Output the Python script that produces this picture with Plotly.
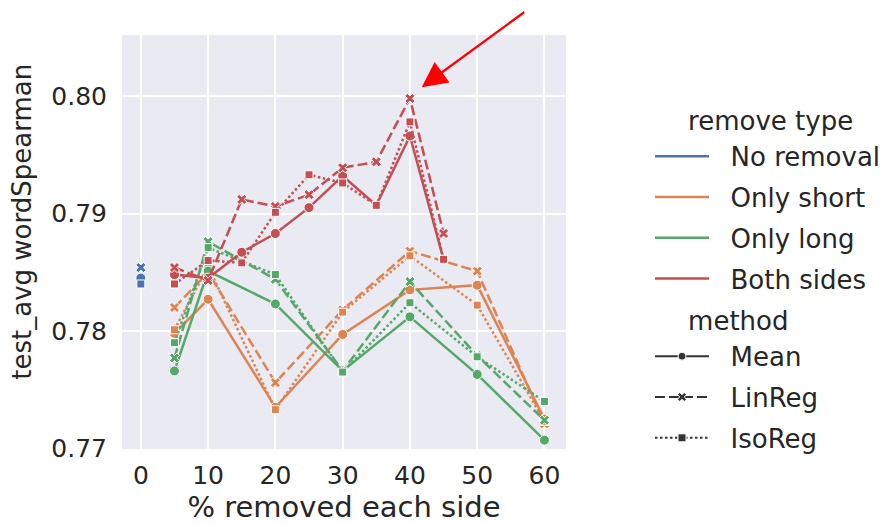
import plotly.graph_objects as go

# ---------------- data ----------------
X_NONE = [0]
X_SL = [5, 10, 20, 30, 40, 50, 60]
X_BOTH = [5, 10, 15, 20, 25, 30, 35, 40, 45]

none_mean = [0.7845]
none_lin = [0.7854]
none_iso = [0.7840]

short_mean = [0.7798, 0.7827, 0.7735, 0.7797, 0.7835, 0.7839, 0.7725]
short_lin = [0.7820, 0.7850, 0.7756, 0.7818, 0.7868, 0.7851, 0.7721]
short_iso = [0.7801, 0.7855, 0.7733, 0.7816, 0.7864, 0.7822, 0.7723]

long_mean = [0.7766, 0.7851, 0.7823, 0.7766, 0.7812, 0.7763, 0.7707]
long_lin = [0.7777, 0.7876, 0.7844, 0.7766, 0.7842, 0.7779, 0.7724]
long_iso = [0.7790, 0.7871, 0.7848, 0.7765, 0.7824, 0.7778, 0.7740]

both_mean = [0.7848, 0.7845, 0.7867, 0.7883, 0.7905, 0.7932, 0.7907, 0.7966, 0.7861]
both_lin = [0.7854, 0.7843, 0.7912, 0.7906, 0.7916, 0.7939, 0.7944, 0.7998, 0.7883]
both_iso = [0.7840, 0.7860, 0.7858, 0.7901, 0.7933, 0.7926, 0.7907, 0.7978, 0.7861]

REMOVE_TYPES = ["No removal", "Only short", "Only long", "Both sides"]
METHODS = ["Mean", "LinReg", "IsoReg"]
X_TICKS = [0, 10, 20, 30, 40, 50, 60]
Y_TICKS = [0.77, 0.78, 0.79, 0.80]
Y_TICK_TEXT = ["0.77", "0.78", "0.79", "0.80"]

# ---------------- styles ----------------
COLORS = {"No removal": "#4C72B0", "Only short": "#DD8452",
          "Only long": "#55A868", "Both sides": "#C44E52"}
DASH = {"Mean": "solid", "LinReg": "10px,4px", "IsoReg": "2.5px,2.5px"}
SYMBOL = {"Mean": "circle", "LinReg": "x", "IsoReg": "square"}
MSIZE = {"Mean": 10, "LinReg": 9, "IsoReg": 8}
TEXT = "#262626"
FONT = "DejaVu Sans"
FS = 25
FS_LEG = 26
NB = "\u00a0"
W, H = 890, 524

series = {
    "No removal": (X_NONE, {"Mean": none_mean, "LinReg": none_lin, "IsoReg": none_iso}),
    "Only short": (X_SL, {"Mean": short_mean, "LinReg": short_lin, "IsoReg": short_iso}),
    "Only long": (X_SL, {"Mean": long_mean, "LinReg": long_lin, "IsoReg": long_iso}),
    "Both sides": (X_BOTH, {"Mean": both_mean, "LinReg": both_lin, "IsoReg": both_iso}),
}

fig = go.Figure()

for rt in REMOVE_TYPES:
    xs, d = series[rt]
    for m in METHODS:
        fig.add_trace(go.Scatter(
            x=xs, y=d[m], mode="lines+markers", showlegend=False,
            line=dict(color=COLORS[rt], width=2.5, dash=DASH[m]),
            marker=dict(symbol=SYMBOL[m], size=MSIZE[m], color=COLORS[rt],
                        line=dict(color="white", width=1)),
            name=f"{rt} / {m}"))

title_font = dict(size=FS_LEG, color=TEXT, family=FONT)
# legend entries (each in its own group so rows can be spaced)
for i, rt in enumerate(REMOVE_TYPES):
    fig.add_trace(go.Scatter(
        x=[None], y=[None], mode="lines", name=NB * 2 + rt,
        line=dict(color=COLORS[rt], width=2.5),
        legendgroup=f"rt{i}",
        legendgrouptitle=dict(text=NB * 4 + "remove type", font=title_font) if i == 0 else None))
for i, m in enumerate(METHODS):
    fig.add_trace(go.Scatter(
        x=[None], y=[None], mode="lines+markers", name=NB * 2 + m,
        line=dict(color="#333333", width=2, dash=DASH[m]),
        marker=dict(symbol=SYMBOL[m], size=8, color="#333333",
                    line=dict(color="white", width=1)),
        legendgroup=f"m{i}",
        legendgrouptitle=dict(text=NB * 4 + "method", font=title_font) if i == 0 else None))

fig.add_annotation(
    x=41.75, y=0.80076, xref="x", yref="y",
    ax=104, ay=-76, axref="pixel", ayref="pixel",
    showarrow=True, arrowhead=2, arrowsize=2.1, arrowwidth=2.4,
    arrowcolor="#FF0000", text="")

fig.add_annotation(
    text="test_avg wordSpearman", textangle=-90,
    xref="paper", yref="paper", x=-0.224, y=0.548,
    xanchor="center", yanchor="middle",
    showarrow=False, font=dict(size=26, color=TEXT, family=FONT))

fig.update_layout(
    width=W, height=H,
    margin=dict(l=122, r=324, t=35, b=75, autoexpand=False),
    paper_bgcolor="white", plot_bgcolor="#EAEAF2",
    font=dict(family=FONT, size=FS, color=TEXT),
    legend=dict(x=650 / W, y=1 - 96 / H, xref="container", yref="container",
                xanchor="left", yanchor="top", maxheight=500,
                font=dict(size=FS_LEG, color=TEXT, family=FONT),
                tracegroupgap=4, bgcolor="rgba(0,0,0,0)",
                itemwidth=54),
    xaxis=dict(range=[-2.8, 63.2], tickvals=X_TICKS, showgrid=True,
               gridcolor="white", gridwidth=1.5, zeroline=False, automargin=False,
               showline=False, ticks="", ticklabelstandoff=9,
               title=dict(text="% removed each side", font=dict(size=29, color=TEXT, family=FONT), standoff=10)),
    yaxis=dict(range=[0.76995, 0.8052], tickvals=Y_TICKS, ticktext=Y_TICK_TEXT,
               showgrid=True, gridcolor="white", gridwidth=1.5, zeroline=False, automargin=False,
               showline=False, ticks="", ticklabelstandoff=14),
)

fig.write_html("out.html")
